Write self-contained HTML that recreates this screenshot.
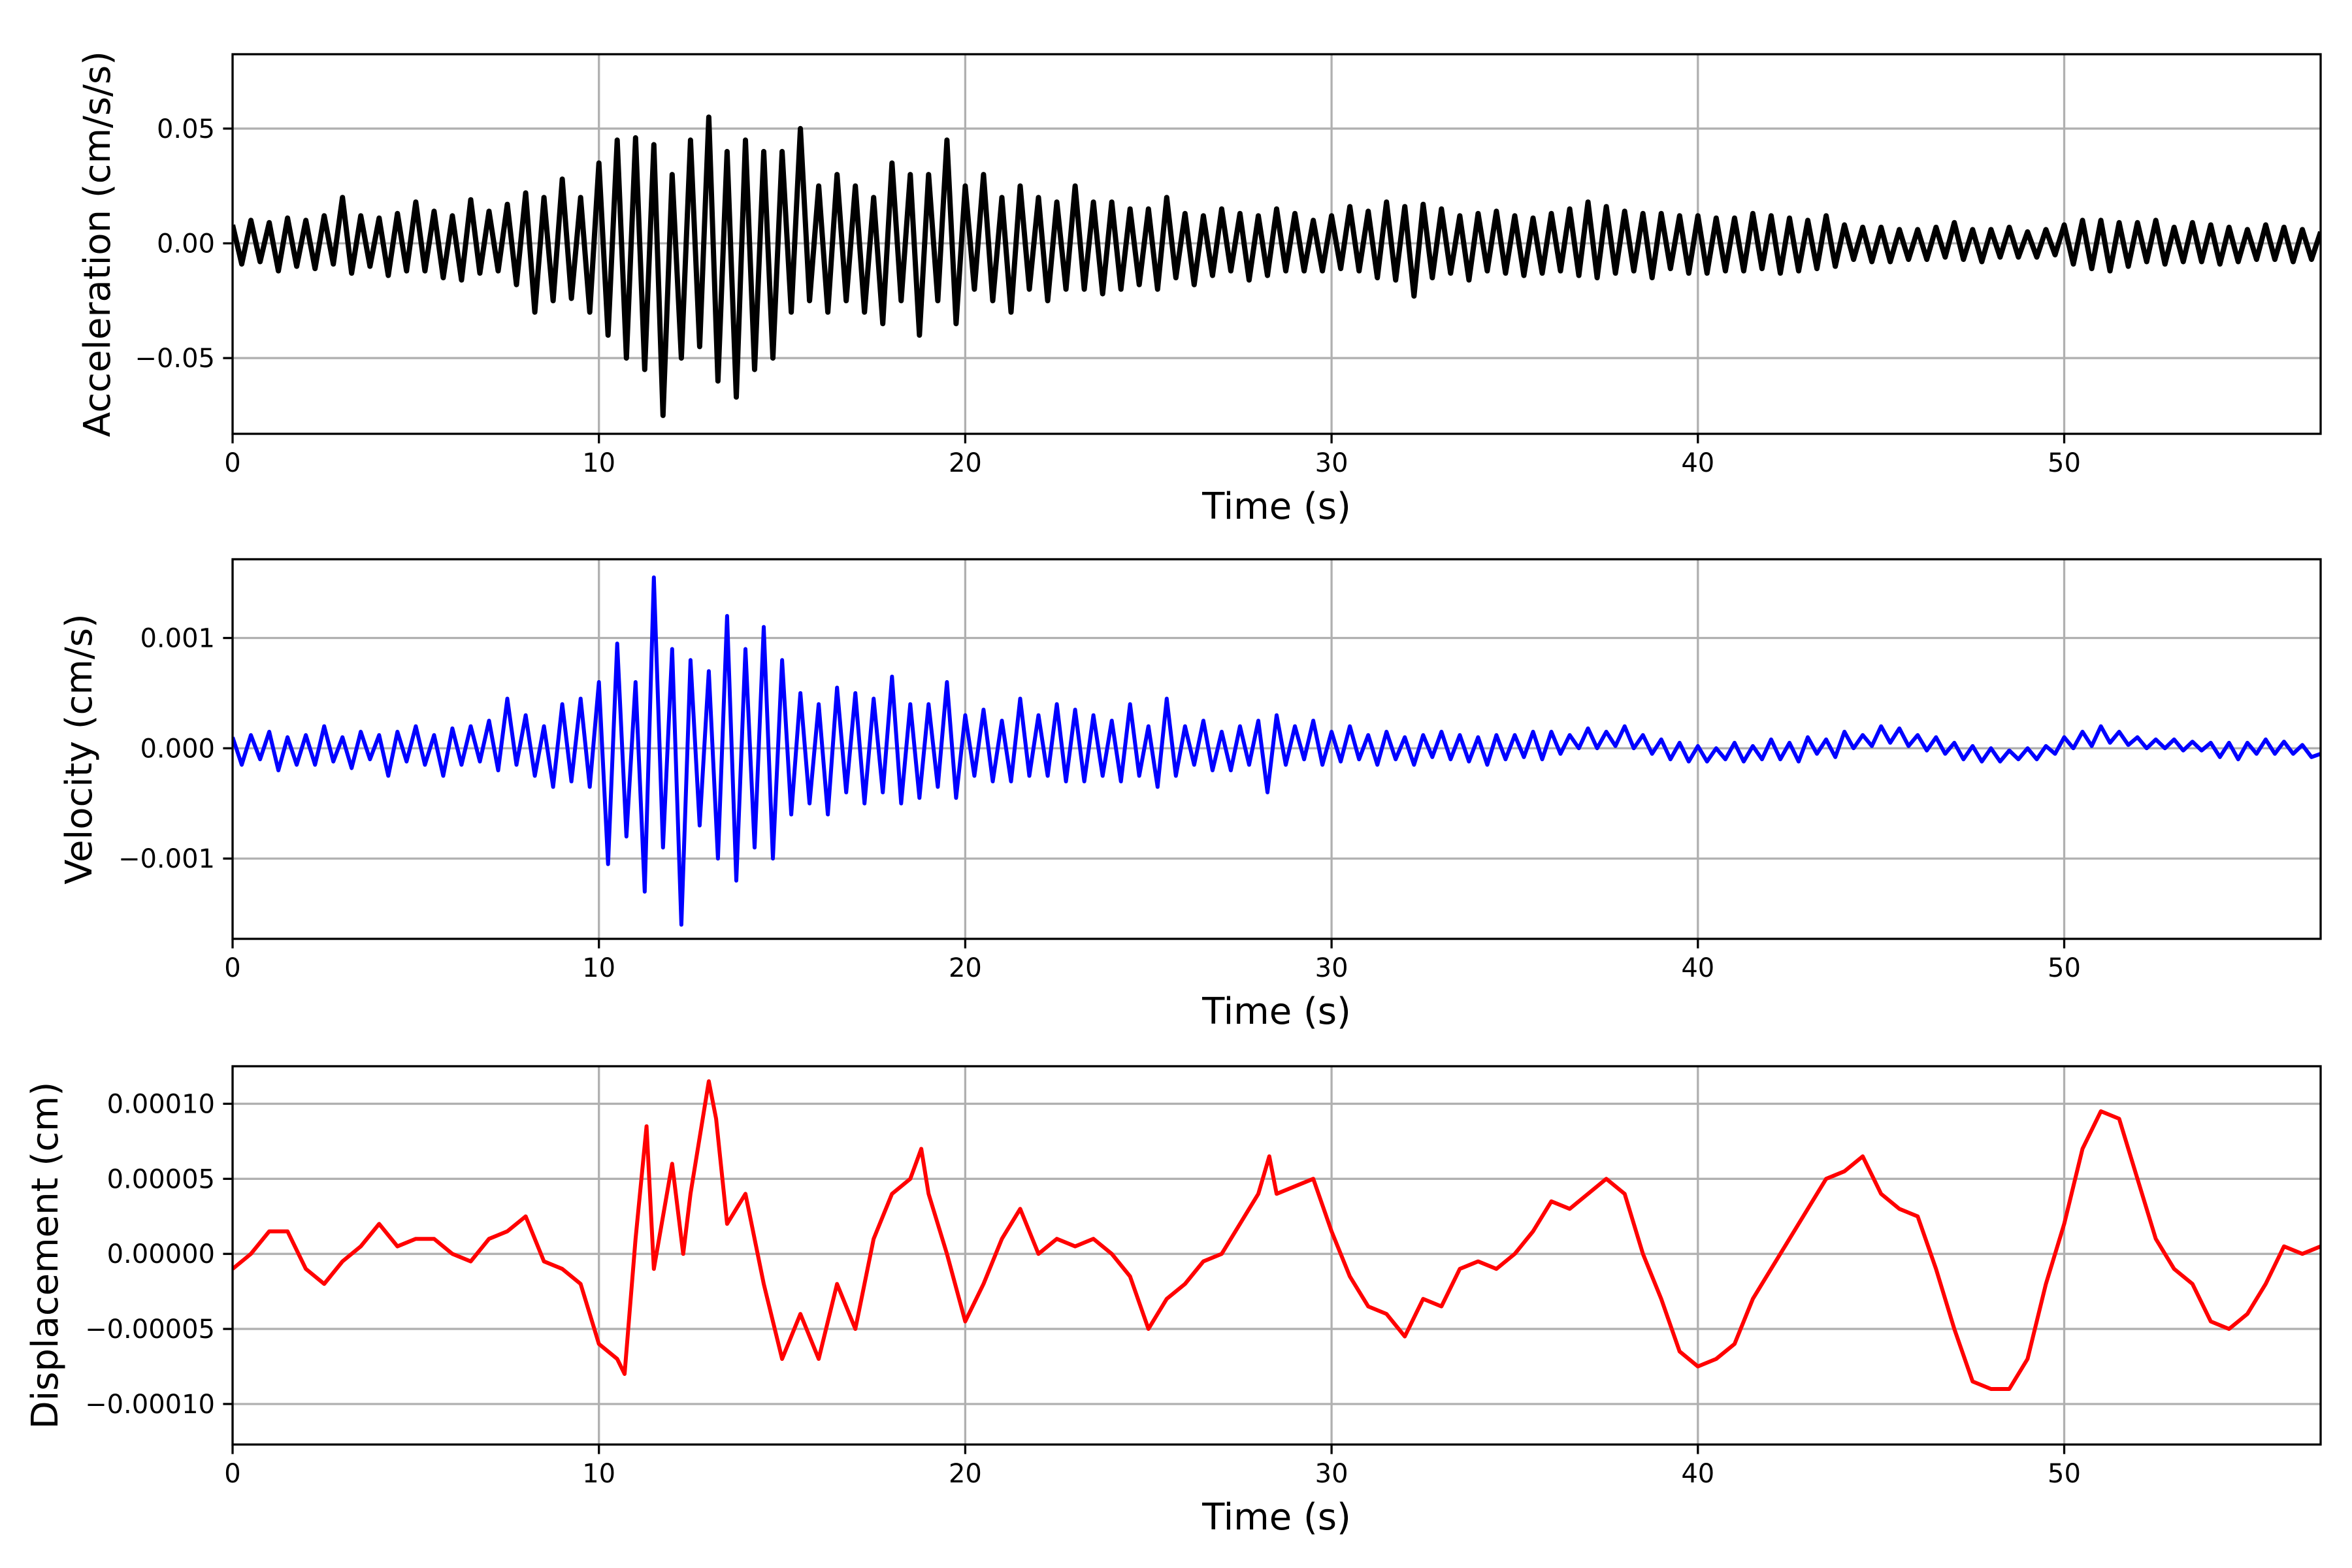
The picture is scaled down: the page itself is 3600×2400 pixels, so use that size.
<!DOCTYPE html>
<html><head><meta charset="utf-8"><style>
html,body{margin:0;padding:0;background:#fff;}
svg{display:block;font-family:"DejaVu Sans","Liberation Sans",sans-serif;}
</style></head><body>
<svg id="fig" width="3600" height="2400" viewBox="0 0 3600 2400" xmlns="http://www.w3.org/2000/svg"></svg>
<script>
const dt = 0.25;
const xTicks = [0,10,20,30,40,50];
const xTickLabels = ["0","10","20","30","40","50"];
const accel = [
.008,-.009,.01,-.008, .009,-.012,.011,-.01, .01,-.011,.012,-.009, .02,-.013,.012,-.01,
.011,-.014,.013,-.012, .018,-.012,.014,-.015, .012,-.016,.019,-.013, .014,-.012,.017,-.018,
.022,-.03,.02,-.025, .028,-.024,.02,-.03, .035,-.04,.045,-.05, .046,-.055,.043,-.075,
.03,-.05,.045,-.045, .055,-.06,.04,-.067, .045,-.055,.04,-.05, .04,-.03,.05,-.025,
.025,-.03,.03,-.025, .025,-.03,.02,-.035, .035,-.025,.03,-.04, .03,-.025,.045,-.035,
.025,-.02,.03,-.025, .02,-.03,.025,-.02, .02,-.025,.018,-.02, .025,-.02,.018,-.022,
.018,-.02,.015,-.018, .015,-.02,.02,-.015, .013,-.018,.012,-.014, .015,-.012,.013,-.016,
.012,-.014,.015,-.012, .013,-.012,.01,-.012, .012,-.011,.016,-.012, .014,-.015,.018,-.016,
.016,-.023,.017,-.015, .015,-.013,.012,-.016, .013,-.012,.014,-.013, .012,-.014,.011,-.013,
.013,-.012,.015,-.014, .018,-.015,.016,-.013, .014,-.012,.013,-.015, .013,-.011,.012,-.013,
.012,-.013,.011,-.012, .011,-.012,.013,-.011, .012,-.013,.011,-.012, .01,-.011,.012,-.01,
.008,-.007,.007,-.008, .007,-.008,.006,-.007, .006,-.007,.007,-.006, .009,-.007,.006,-.008,
.006,-.006,.007,-.006, .005,-.006,.006,-.005, .008,-.009,.01,-.011, .01,-.012,.009,-.01,
.009,-.008,.01,-.009, .007,-.008,.009,-.008, .008,-.009,.007,-.008, .006,-.007,.008,-.007,
.007,-.008,.006,-.007, .005];
const accelTicks = [-0.05,0,0.05];
const accelTickLabels = ["\u22120.05","0.00","0.05"];
// velocity in units of 1e-3 cm/s
const velocity = [
.1,-.15,.12,-.1, .15,-.2,.1,-.15, .12,-.15,.2,-.12, .1,-.18,.15,-.1, .12,-.25,.15,-.12,
.2,-.15,.12,-.25, .18,-.15,.2,-.12, .25,-.2,.45,-.15, .3,-.25,.2,-.35, .4,-.3,.45,-.35,
.6,-1.05,.95,-.8, .6,-1.3,1.55,-.9, .9,-1.6,.8,-.7, .7,-1.0,1.2,-1.2, .9,-.9,1.1,-1.0,
.8,-.6,.5,-.5, .4,-.6,.55,-.4, .5,-.5,.45,-.4, .65,-.5,.4,-.45, .4,-.35,.6,-.45,
.3,-.25,.35,-.3, .25,-.3,.45,-.25, .3,-.25,.4,-.3, .35,-.3,.3,-.25, .25,-.3,.4,-.25,
.2,-.35,.45,-.25, .2,-.15,.25,-.2, .15,-.2,.2,-.15, .25,-.4,.3,-.15, .2,-.1,.25,-.15,
.15,-.12,.2,-.1, .12,-.15,.15,-.1, .1,-.15,.12,-.08, .15,-.1,.12,-.12, .1,-.15,.12,-.1,
.12,-.08,.15,-.1, .15,-.05,.12,.0, .18,.0,.15,.02, .2,.0,.12,-.05, .08,-.1,.05,-.12,
.02,-.12,.0,-.1, .05,-.12,.02,-.1, .08,-.1,.05,-.12, .1,-.05,.08,-.08, .15,.0,.12,.02,
.2,.05,.18,.02, .12,-.02,.1,-.05, .05,-.1,.02,-.12, .0,-.12,-.02,-.1, .0,-.1,.02,-.05,
.1,.0,.15,.02, .2,.05,.15,.03, .1,.0,.08,.0, .08,-.02,.06,-.02, .05,-.08,.05,-.1,
.05,-.05,.08,-.05, .06,-.05,.03,-.08, -.05];
const velTicks = [-1,0,1];
const velTickLabels = ["\u22120.001","0.000","0.001"];
// displacement in units of 1e-5 cm
const dispTimes = [0,0.5,1,1.5,2,2.5,3,3.5,4,4.5,5,5.5,6,6.5,7,7.5,8,8.5,9,9.5,10,10.5,10.7,11,11.3,11.5,12,12.3,12.5,13,13.2,13.5,14,14.5,15,15.5,16,16.5,17,17.5,18,18.5,18.8,19,19.5,20,20.5,21,21.5,22,22.5,23,23.5,24,24.5,25,25.5,26,26.5,27,27.5,28,28.3,28.5,29,29.5,30,30.5,31,31.5,32,32.5,33,33.5,34,34.5,35,35.5,36,36.5,37,37.5,38,38.5,39,39.5,40,40.5,41,41.5,42,42.5,43,43.5,44,44.5,45,45.5,46,46.5,47,47.5,48,48.5,49,49.5,50,50.5,51,51.5,52,52.5,53,53.5,54,54.5,55,55.5,56,56.5,57];
const displacement = [-1,0,1.5,1.5,-1,-2,-0.5,0.5,2,0.5,1,1,0,-0.5,1,1.5,2.5,-0.5,-1,-2,-6,-7,-8,1,8.5,-1,6,0,4,11.5,9,2,4,-2,-7,-4,-7,-2,-5,1,4,5,7,4,0,-4.5,-2,1,3,0,1,0.5,1,0,-1.5,-5,-3,-2,-0.5,0,2,4,6.5,4,4.5,5,1.5,-1.5,-3.5,-4,-5.5,-3,-3.5,-1,-0.5,-1,0,1.5,3.5,3,4,5,4,0,-3,-6.5,-7.5,-7,-6,-3,-1,1,3,5,5.5,6.5,4,3,2.5,-1,-5,-8.5,-9,-9,-7,-2,2,7,9.5,9,5,1,-1,-2,-4.5,-5,-4,-2,0.5,0,0.5];
const dispTicks = [-10,-5,0,5,10];
const dispTickLabels = ["\u22120.00010","\u22120.00005","0.00000","0.00005","0.00010"];

const NS = "http://www.w3.org/2000/svg";
const svg = document.getElementById('fig');
const L = 356, R = 3552, XMIN = 0, XMAX = 57;
function xs(t){ return L + (t - XMIN) / (XMAX - XMIN) * (R - L); }
function mk(tag, attrs, parent){
  const e = document.createElementNS(NS, tag);
  for (const k in attrs) e.setAttribute(k, attrs[k]);
  (parent || svg).appendChild(e);
  return e;
}
function panel(id, top, bottom, ymin, ymax, times, vals, color, lw, yticks, ylabels, ylabel, ylabelX){
  const g = mk('g', {});
  
  
  const ys = v => bottom - (v - ymin) / (ymax - ymin) * (bottom - top);
  xTicks.forEach((t, i) => {
    const ln = mk('line', {x1: xs(t), x2: xs(t), y1: top, y2: bottom, stroke: '#b0b0b0', 'stroke-width': 3.3}, g);
    
    
  });
  yticks.forEach(v => {
    const ln = mk('line', {x1: L, x2: R, y1: ys(v), y2: ys(v), stroke: '#b0b0b0', 'stroke-width': 3.3}, g);
    
    
  });
  const cid = 'clip-' + id;
  const cp = mk('clipPath', {id: cid}, g);
  mk('rect', {x: L, y: top, width: R - L, height: bottom - top}, cp);
  let d = '';
  vals.forEach((v, i) => { d += (i ? 'L' : 'M') + xs(times(i)).toFixed(1) + ' ' + ys(v).toFixed(1); });
  const p = mk('path', {d: d, fill: 'none', stroke: color, 'stroke-width': lw, 'stroke-linejoin': 'round', 'clip-path': 'url(#' + cid + ')'}, g);
  
  
  const fr = mk('rect', {x: L, y: top, width: R - L, height: bottom - top, fill: 'none', stroke: '#000', 'stroke-width': 3.3}, g);
  
  
  xTicks.forEach((t, i) => {
    mk('line', {x1: xs(t), x2: xs(t), y1: bottom, y2: bottom + 14.6, stroke: '#000', 'stroke-width': 3.3}, g);
    const tx = mk('text', {x: xs(t), y: bottom + 58, 'font-size': 40, 'text-anchor': 'middle'}, g);
    tx.textContent = xTickLabels[i];
    
    
  });
  yticks.forEach((v, i) => {
    mk('line', {x1: L - 14.6, x2: L, y1: ys(v), y2: ys(v), stroke: '#000', 'stroke-width': 3.3}, g);
    const tx = mk('text', {x: L - 27, y: ys(v) + 14, 'font-size': 40, 'text-anchor': 'end'}, g);
    tx.textContent = ylabels[i];
    
    
  });
  const xl = mk('text', {x: (L + R) / 2, y: bottom + 130, 'font-size': 56, 'text-anchor': 'middle'}, g);
  xl.textContent = 'Time (s)';
  
  
  const cy = (top + bottom) / 2;
  const yl = mk('text', {x: ylabelX, y: cy, 'font-size': 56, 'text-anchor': 'middle', transform: 'rotate(-90 ' + ylabelX + ' ' + cy + ')'}, g);
  yl.textContent = ylabel;
  
  
}
panel('acceleration', 83, 664, -0.083, 0.0824, i => i * dt, accel, '#000000', 8, accelTicks, accelTickLabels, 'Acceleration (cm/s/s)', 168);
panel('velocity', 856, 1437, -1.728, 1.714, i => i * dt, velocity, '#0000ff', 6, velTicks, velTickLabels, 'Velocity (cm/s)', 140);
panel('displacement', 1632, 2211, -12.7, 12.5, i => dispTimes[i], displacement, '#ff0000', 6, dispTicks, dispTickLabels, 'Displacement (cm)', 88);
</script>
</body></html>
